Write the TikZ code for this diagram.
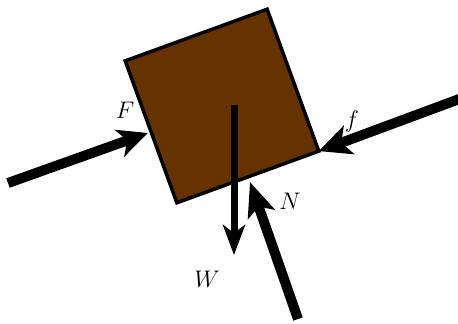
\documentclass[tikz,border=0pt]{standalone}
\usetikzlibrary{arrows.meta}
\definecolor{boxbrown}{RGB}{102,51,0}
\begin{document}
\begin{tikzpicture}[x=0.5pt,y=-0.5pt,
  block/.style={draw=black,fill=boxbrown,line width=1.75pt,minimum size=75.5pt,inner sep=0pt,outer sep=0pt,rotate=20,line join=miter},
  force/.style={line width=5pt},
  lbl/.style={font=\fontsize{12.4}{14}\selectfont,inner sep=0pt}]
\useasboundingbox (0,0) rectangle (458,323);
\node[block] (box) at (222,106) {};
% coordinates of force ends
\coordinate (Ftail) at (8,183);
\coordinate (Ftip) at (148,133);
\coordinate (ftail) at (462,98);
\coordinate (ftip) at (box.south east);
\coordinate (Wtail) at (234,105);
\coordinate (Wtip) at (234,255);
\coordinate (Ntail) at (298,319);
\coordinate (Ntip) at (250,182);
\draw[force,-{Stealth[length=15pt,width=14pt,inset=4pt]}] (Ftail) -- (Ftip);
\draw[force,-{Stealth[length=16pt,width=15pt,inset=4pt]}] (ftail) -- (ftip);
\draw[line width=3.5pt,-{Stealth[length=15pt,width=11pt,inset=4pt]}] (Wtail) -- (Wtip);
\draw[force,-{Stealth[length=17pt,width=14pt,inset=4pt]}] (Ntail) -- (Ntip);
\node[lbl] (Flbl) at (125,110) {$F$};
\node[lbl] (flbl) at (352,121) {$f$};
\node[lbl] (Wlbl) at (207,279) {$W$};
\node[lbl] (Nlbl) at (290,201) {$N$};
\end{tikzpicture}
\end{document}
